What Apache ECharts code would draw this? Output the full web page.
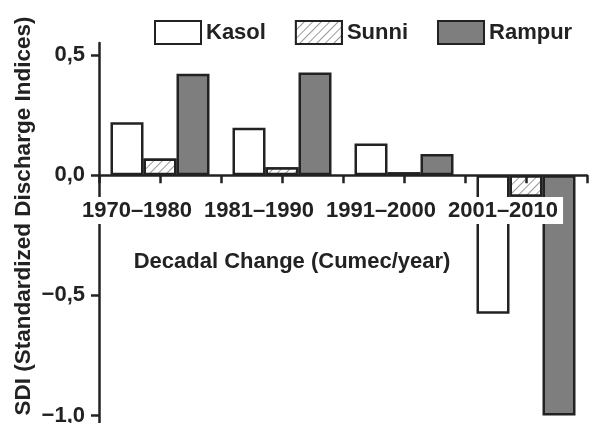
<!DOCTYPE html>
<html>
<head>
<meta charset="utf-8">
<script src="https://cdn.jsdelivr.net/npm/echarts@6/dist/echarts.min.js"></script>
<style>
  html, body { margin: 0; padding: 0; background: #fff; }
  #chart { width: 589px; height: 423px; }
</style>
</head>
<body>
<div id="chart"></div>
<script>
// decades on the x axis
const decades = ['1970–1980', '1981–1990', '1991–2000', '2001–2010'];
// SDI values
const kasol = [0.22, 0.197, 0.132, -0.576];
const sunni = [0.069, 0.033, 0.012, -0.09];
const rampur = [0.422, 0.427, 0.088, -1.0];
const yTicks = [-1, -0.5, 0, 0.5];
// half-decade slots, only used for the tick marks on the zero line
const halfSlots = decades.flatMap((d) => [d + ' a', d + ' b']);

const ink = '#222';
const font = '"Liberation Sans", Arial, sans-serif';

const yMin = -1.035;
const yMax = 0.55;
const gridTop = 43;
const gridBottom = -1;

const chart = echarts.init(document.getElementById('chart'));

// v6 keeps the labels at the grid edge, so the label axis is pulled down to zero
const plotH = 423 - gridTop - gridBottom;

const gridBox = { left: 99, right: 2, top: gridTop, bottom: gridBottom, outerBoundsMode: 'none' };

const barStyle = (fill) => ({
  color: fill,
  borderColor: ink,
  borderWidth: 2.5
});

const option = {
  backgroundColor: '#fff',
  animation: false,
  textStyle: { fontFamily: font, color: ink, fontWeight: 'bold' },
  legend: {
    left: 149,
    top: 15,
    width: 440,
    itemWidth: 46,
    itemHeight: 23,
    itemGap: 29,
    icon: 'rect',
    textStyle: { fontSize: 22, fontWeight: 'bold', color: ink },
    data: ['Kasol', 'Sunni', 'Rampur']
  },
  grid: [Object.assign({}, gridBox), Object.assign({}, gridBox)],
  xAxis: [
    {
      // bar axis: line on zero
      type: 'category',
      data: decades,
      gridIndex: 0,
      z: 5,
      axisLine: { onZero: true, lineStyle: { color: ink, width: 2.5 } },
      axisTick: { show: false },
      axisLabel: { show: false }
    },
    {
      // labels
      type: 'category',
      data: decades,
      gridIndex: 0,
      position: 'top',
      offset: -Math.round(plotH * yMax / (yMax - yMin)),
      z: 6,
      axisLine: { show: false, onZero: false },
      axisTick: { show: false },
      axisLabel: {
        inside: true,
        margin: 22,
        interval: 0,
        formatter: (v) => '{t|' + v + '}{s|}',
        rich: {
          t: {
            fontSize: 22, fontWeight: 'bold', fontFamily: font, color: ink,
            backgroundColor: '#fff', padding: [3, 5, 2, 5]
          },
          s: { width: 46 }
        }
      }
    },
    {
      // ticks every half decade on the zero line
      type: 'category',
      data: halfSlots,
      min: 0,
      max: halfSlots.length - 1,
      gridIndex: 1,
      z: 6,
      axisLine: { show: false, onZero: true },
      axisTick: { show: true, interval: 0, alignWithLabel: false, length: 8, lineStyle: { color: ink, width: 2.5 } },
      axisLabel: { show: false, interval: 0 }
    }
  ],
  yAxis: [
    {
      type: 'value',
      gridIndex: 0,
      min: yMin,
      max: yMax,
      splitLine: { show: false },
      axisLine: { show: true, lineStyle: { color: ink, width: 2.5 } },
      axisTick: { show: true, length: 8, customValues: yTicks, lineStyle: { color: ink, width: 2.5 } },
      axisLabel: {
        customValues: yTicks,
        margin: 14,
        fontSize: 22,
        fontWeight: 'bold',
        color: ink,
        formatter: (v) => v.toFixed(1).replace('.', ',').replace('-', '\u2212')
      }
    },
    {
      type: 'value',
      gridIndex: 1,
      min: yMin,
      max: yMax,
      show: false
    }
  ],
  graphic: [
    {
      type: 'text',
      x: 24,
      y: 216,
      rotation: Math.PI / 2,
      style: {
        text: 'SDI (Standardized Discharge Indices)',
        fontSize: 22.5, fontWeight: 'bold', fontFamily: font, fill: ink,
        align: 'center', verticalAlign: 'middle'
      }
    },
    {
      type: 'text',
      x: 292,
      y: 262,
      style: {
        text: 'Decadal Change (Cumec/year)',
        fontSize: 22, fontWeight: 'bold', fontFamily: font, fill: ink,
        align: 'center', verticalAlign: 'middle'
      }
    }
  ],
  series: [
    {
      name: 'Kasol', type: 'bar', data: kasol, barWidth: 33, barGap: '0%',
      itemStyle: barStyle('#fff')
    },
    {
      name: 'Sunni', type: 'bar', data: sunni, barWidth: 33, barGap: '0%',
      itemStyle: Object.assign(barStyle('#fff'), {
        decal: {
          symbol: 'rect', symbolSize: 1, color: '#9a9a9a', backgroundColor: '#fff',
          dashArrayX: [1, 0], dashArrayY: [1, 5], rotation: -Math.PI / 4
        }
      })
    },
    {
      name: 'Rampur', type: 'bar', data: rampur, barWidth: 33, barGap: '0%',
      itemStyle: barStyle('#7e7e7e')
    }
  ]
};

chart.setOption(option);
</script>
</body>
</html>
